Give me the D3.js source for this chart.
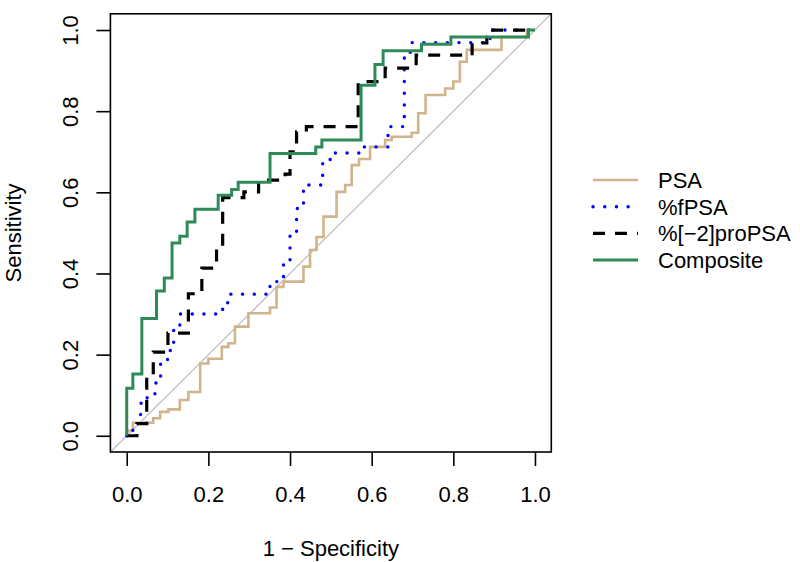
<!DOCTYPE html>
<html>
<head>
<meta charset="utf-8">
<script src="https://cdn.jsdelivr.net/npm/d3@7"></script>
<style>
  html, body { margin: 0; padding: 0; background: #fff; }
  svg { display: block; }
  text { font-family: "Liberation Sans", Arial, sans-serif; fill: #000; }
</style>
</head>
<body>
<svg id="chart" width="800" height="562"></svg>
<script>
// ---- Data ----
const seriesNames = ["PSA", "%fPSA", "%[\u22122]proPSA", "Composite"];
const seriesColors = ["#D2B48C", "#0000FF", "#000000", "#2E8B57"];

const psaFpr = [0, 0.015, 0.065, 0.082, 0.102, 0.13, 0.151, 0.18, 0.2, 0.233, 0.249, 0.265, 0.298, 0.351, 0.367, 0.384, 0.433, 0.449, 0.465, 0.482, 0.514, 0.535, 0.551, 0.569, 0.596, 0.633, 0.649, 0.698, 0.714, 0.732, 0.78, 0.8, 0.816, 0.833, 0.918, 0.98, 1];
const psaTpr = [0, 0.012, 0.032, 0.043, 0.059, 0.065, 0.088, 0.108, 0.178, 0.19, 0.219, 0.228, 0.269, 0.302, 0.316, 0.367, 0.38, 0.417, 0.458, 0.49, 0.54, 0.601, 0.618, 0.667, 0.682, 0.712, 0.729, 0.737, 0.747, 0.795, 0.84, 0.856, 0.873, 0.922, 0.951, 0.983, 1];

const fpsaFpr = [0, 0.015, 0.034, 0.05, 0.069, 0.083, 0.1, 0.115, 0.13, 0.235, 0.25, 0.351, 0.384, 0.4, 0.416, 0.433, 0.48, 0.51, 0.576, 0.64, 0.68, 0.698, 0.89, 1];
const fpsaTpr = [0, 0, 0.03, 0.08, 0.1, 0.13, 0.18, 0.21, 0.27, 0.3, 0.328, 0.349, 0.38, 0.43, 0.5, 0.56, 0.618, 0.681, 0.697, 0.712, 0.762, 0.945, 0.969, 1];

const proFpr = [0, 0.025, 0.049, 0.065, 0.101, 0.151, 0.184, 0.22, 0.235, 0.287, 0.323, 0.388, 0.4, 0.416, 0.44, 0.567, 0.633, 0.709, 0.846, 0.882, 1];
const proTpr = [0, 0, 0.03, 0.147, 0.206, 0.253, 0.35, 0.413, 0.459, 0.587, 0.601, 0.63, 0.645, 0.7, 0.749, 0.762, 0.873, 0.906, 0.938, 0.968, 1];

const compFpr = [0, 0.015, 0.037, 0.073, 0.092, 0.111, 0.13, 0.148, 0.167, 0.224, 0.257, 0.273, 0.351, 0.463, 0.478, 0.574, 0.608, 0.628, 0.722, 0.794, 0.984, 1];
const compTpr = [0, 0.117, 0.152, 0.289, 0.357, 0.389, 0.475, 0.492, 0.527, 0.558, 0.593, 0.607, 0.625, 0.696, 0.712, 0.729, 0.864, 0.915, 0.949, 0.965, 0.983, 1];

const tickValues = [0, 0.2, 0.4, 0.6, 0.8, 1.0];
const xTitle = "1 \u2212 Specificity";
const yTitle = "Sensitivity";

(function () {
  // ---- Layout ----
  const svg = d3.select("#chart");
  const pLeft = 110.4, pRight = 551.3, pTop = 13.8, pBottom = 452;
  const FS = 22;

  const x = d3.scaleLinear().domain([-0.04, 1.04]).range([pLeft, pRight]);
  const y = d3.scaleLinear().domain([-0.04, 1.04]).range([pBottom, pTop]);

  // diagonal reference line
  svg.append("line")
    .attr("x1", x(-0.04)).attr("y1", y(-0.04))
    .attr("x2", x(1.04)).attr("y2", y(1.04))
    .attr("stroke", "#BEBEBE").attr("stroke-width", 1.2);

  const series = [
    { name: seriesNames[0], fpr: psaFpr, tpr: psaTpr, color: seriesColors[0], width: 2.6, dash: null, cap: "butt" },
    { name: seriesNames[1], fpr: fpsaFpr, tpr: fpsaTpr, color: seriesColors[1], width: 3.4, dash: "0.1,11.6", cap: "round" },
    { name: seriesNames[2], fpr: proFpr, tpr: proTpr, color: seriesColors[2], width: 3.2, dash: "12,10", cap: "butt" },
    { name: seriesNames[3], fpr: compFpr, tpr: compTpr, color: seriesColors[3], width: 3, dash: null, cap: "butt" }
  ];

  const line = d3.line()
    .x(d => x(d[0]))
    .y(d => y(d[1]))
    .curve(d3.curveStepBefore);

  svg.append("clipPath").attr("id", "plotclip")
    .append("rect").attr("x", pLeft).attr("y", pTop)
    .attr("width", pRight - pLeft).attr("height", pBottom - pTop);

  const plotG = svg.append("g").attr("clip-path", "url(#plotclip)");
  series.forEach(s => {
    const pts = s.fpr.map((f, i) => [f, s.tpr[i]]);
    plotG.append("path")
      .attr("d", line(pts))
      .attr("fill", "none")
      .attr("stroke", s.color)
      .attr("stroke-width", s.width)
      .attr("stroke-dasharray", s.dash)
      .attr("stroke-linecap", s.cap)
      .attr("stroke-linejoin", "miter");
  });

  // box
  svg.append("rect")
    .attr("x", pLeft).attr("y", pTop)
    .attr("width", pRight - pLeft).attr("height", pBottom - pTop)
    .attr("fill", "none").attr("stroke", "#000").attr("stroke-width", 1.6);

  // x axis
  const xAxis = d3.axisBottom(x)
    .tickValues(tickValues)
    .tickFormat(d3.format(".1f"))
    .tickSize(14).tickSizeOuter(0).tickPadding(20);
  const gx = svg.append("g").attr("transform", `translate(0,${pBottom})`).call(xAxis);
  gx.select(".domain").remove();
  gx.selectAll(".tick line").attr("stroke", "#000").attr("stroke-width", 1.6);
  gx.selectAll(".tick text")
    .attr("font-size", FS)
    .attr("font-family", "Liberation Sans, Arial, sans-serif")
    .attr("fill", "#000");

  // y axis
  const yAxis = d3.axisLeft(y)
    .tickValues(tickValues)
    .tickFormat(d3.format(".1f"))
    .tickSize(14).tickSizeOuter(0);
  const gy = svg.append("g").attr("transform", `translate(${pLeft},0)`).call(yAxis);
  gy.select(".domain").remove();
  gy.selectAll(".tick line").attr("stroke", "#000").attr("stroke-width", 1.6);
  gy.selectAll(".tick text")
    .attr("font-size", FS)
    .attr("font-family", "Liberation Sans, Arial, sans-serif")
    .attr("fill", "#000")
    .attr("text-anchor", "middle")
    .attr("transform", "rotate(-90)")
    .attr("x", 0)
    .attr("y", -32.4)
    .attr("dy", 0);

  // axis titles
  svg.append("text")
    .attr("x", (pLeft + pRight) / 2).attr("y", 556)
    .attr("text-anchor", "middle").attr("font-size", FS)
    .text(xTitle);
  svg.append("text")
    .attr("transform", `translate(21,${(pTop + pBottom) / 2}) rotate(-90)`)
    .attr("text-anchor", "middle").attr("font-size", FS)
    .text(yTitle);

  // legend
  const legend = svg.append("g");
  const legY0 = 180, legStep = 26.7;
  series.forEach((s, i) => {
    const yy = legY0 + i * legStep;
    legend.append("line")
      .attr("x1", 593).attr("x2", 638)
      .attr("y1", yy).attr("y2", yy)
      .attr("stroke", s.color)
      .attr("stroke-width", s.width)
      .attr("stroke-dasharray", s.dash)
      .attr("stroke-linecap", s.cap);
    legend.append("text")
      .attr("x", 658).attr("y", yy + 8)
      .attr("font-size", FS)
      .text(s.name);
  });
})();
</script>
</body>
</html>
